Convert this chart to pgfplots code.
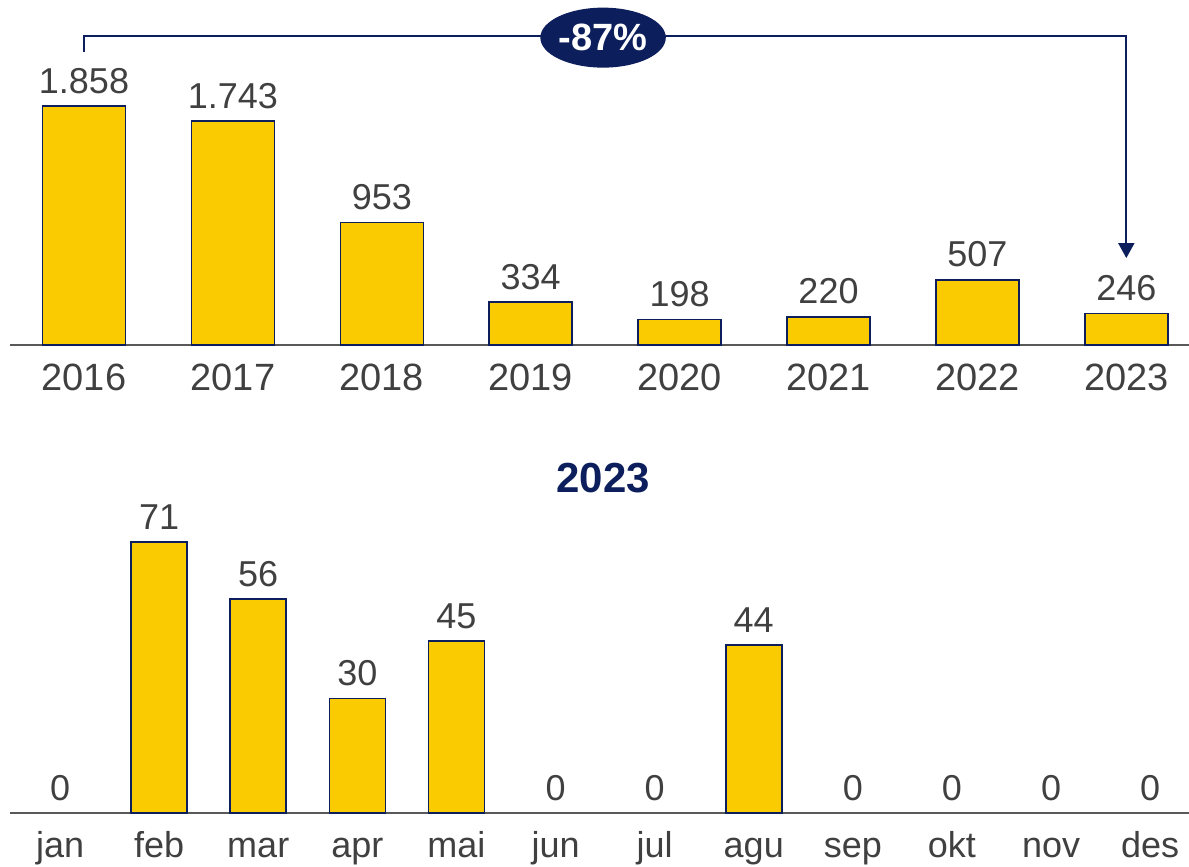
\documentclass[border=0pt]{standalone}
\usepackage{pgfplots}
\pgfplotsset{compat=1.18}
\usepackage{fontspec}
\setmainfont{Liberation Sans}
\usetikzlibrary{arrows.meta,shapes.geometric}
\definecolor{barY}{HTML}{FACB00}
\definecolor{navy}{HTML}{0C1E5B}
\definecolor{txt}{HTML}{404040}
\definecolor{axl}{HTML}{595959}
\pgfplotsset{
  mybars/.style={
    ybar, bar width=#1, bar shift=0pt,
    axis x line*=bottom, axis y line=none,
    x axis line style={-, draw=axl, line width=1pt},
    xtick=data, major tick length=0pt,
    ymin=0, clip=false,
    /pgf/number format/assume math mode=true,
    /pgf/number format/.cd, 1000 sep={.}, /pgfplots/.cd,
    tick label style={font=\fontsize{18}{18}\selectfont, text=txt},
    xticklabel style={anchor=base, yshift=-22.5pt},
    nodes near coords,
    nodes near coords style={font=\fontsize{18}{18}\selectfont, text=txt, yshift=2.5pt},
    scale only axis,
  },
}
\pgfplotstableread{
x y
0 1858
1 1743
2 953
3 334
4 198
5 220
6 507
7 246
}\yearly
\pgfplotstableread{
x y
1 71
2 56
3 30
4 45
7 44
}\monthly
\pgfplotstableread{
x y
0 0
5 0
6 0
8 0
9 0
10 0
11 0
}\monthzero
\begin{document}
\begin{tikzpicture}
\path[use as bounding box] (0,0) rectangle (594.5pt,433.5pt);
\begin{axis}[mybars=41.5pt,
  x=74.45pt, y=0.0643pt,
  xmin=-0.497, xmax=7.42, ymax=2683,
  at={(5pt,261pt)}, anchor=south west,
  xticklabels={2016,2017,2018,2019,2020,2021,2022,2023},
  xticklabel style={font=\fontsize{19}{19}\selectfont, yshift=-0.5pt},
]
\addplot[fill=barY, draw=navy, line width=0.8pt] table[x=x,y=y] {\yearly};
\draw[navy, line width=1pt] (axis cs:0,2278) |- (axis cs:3.5,2403);
\draw[navy, line width=1pt, -{Triangle[width=8pt,length=7.5pt]}] (axis cs:3.5,2403) -| (axis cs:7,676);
\node[ellipse, fill=navy, minimum width=62pt, minimum height=30pt, inner sep=0pt, text=white,
  font=\bfseries\fontsize{19}{19}\selectfont] at (axis cs:3.486,2390) {-87\%};
\end{axis}
\begin{axis}[mybars=28pt,
  x=49.55pt, y=1.91pt,
  xmin=-0.505, xmax=11.39, ymax=100,
  at={(5pt,27pt)}, anchor=south west,
  xticklabels={jan,feb,mar,apr,mai,jun,jul,agu,sep,okt,nov,des},
  xtick={0,...,11},
]
\addplot[fill=barY, draw=navy, line width=0.8pt] table[x=x,y=y] {\monthly};
\addplot[draw=none, fill=none] table[x=x,y=y] {\monthzero};
\node[text=navy, font=\bfseries\fontsize{21}{21}\selectfont] at (axis cs:5.48,87.7) {2023};
\end{axis}
\end{tikzpicture}
\end{document}
